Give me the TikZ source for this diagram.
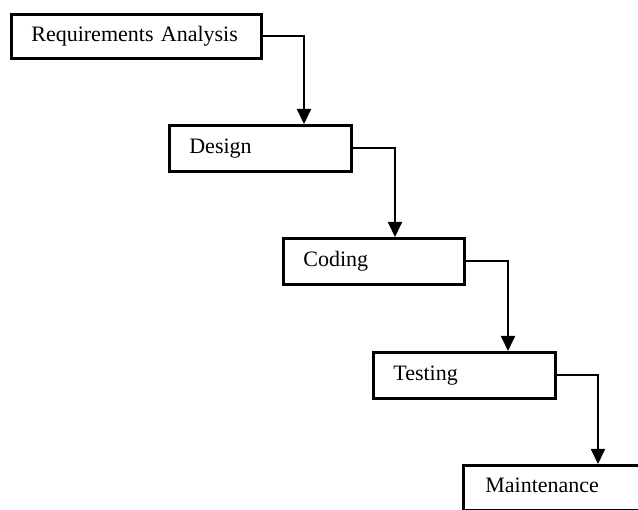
\documentclass[tikz,border=0pt]{standalone}
\usepackage{fontspec}
\setmainfont{Liberation Serif}
\usetikzlibrary{arrows.meta,positioning}
\tikzset{
  phase/.style={draw, line width=2.7pt, anchor=north west, inner sep=0pt, align=left,
    minimum height=45pt, text height=15pt, text depth=5pt, font=\fontsize{22}{26}\selectfont},
  flow/.style={line width=1.8pt, -{Triangle[width=14pt,length=15pt]}}
}
\begin{document}
\begin{tikzpicture}[x=1pt,y=-1pt]
				\useasboundingbox (0,0) rectangle (638,510);

				% phases
				\node [phase, minimum width=250pt, minimum height=44pt, text width=210pt] (req) at (10,13) {Requirements Analysis};
				\node [phase, minimum width=182pt, minimum height=46pt, text width=142pt] (design) at (168,124) {Design};
				\node [phase, minimum width=181pt, minimum height=46pt, text width=141pt] (coding) at (282,237) {Coding};
				\node [phase, minimum width=182pt, minimum height=46pt, text width=142pt] (testing) at (372,351) {Testing};
				\node [phase, minimum width=200pt, minimum height=45pt, text width=156pt] (maint) at (462,464) {Maintenance};

				% arrow ends on the top edges
				\coordinate (design-in) at (304,124);
				\coordinate (coding-in) at (395,237);
				\coordinate (testing-in) at (508,351);
				\coordinate (maint-in) at (598,464);

				\draw [flow, line width=2pt] (req.east) -| (design-in);
				\draw [flow] (design.east) -| (coding-in);
				\draw [flow] (coding.east) -| (testing-in);
				\draw [flow] (testing.east) -| (maint-in);
			\end{tikzpicture}
\end{document}
